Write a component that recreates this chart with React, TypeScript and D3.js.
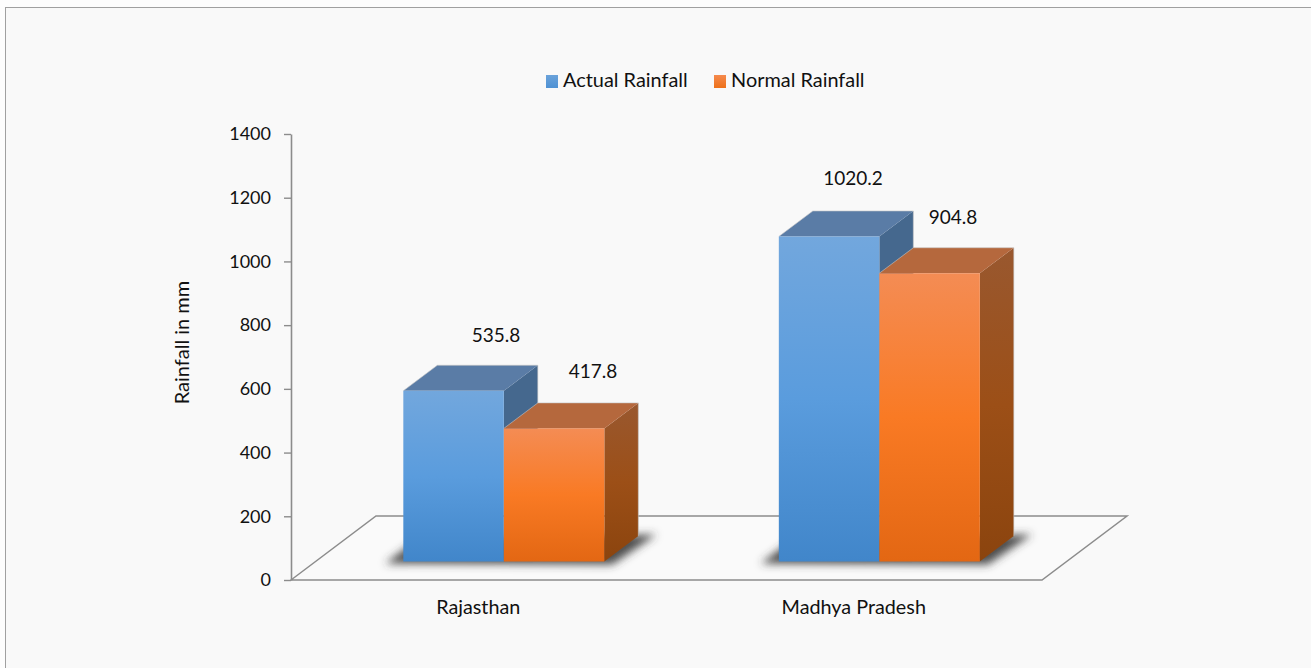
import React, { useEffect, useRef } from "react";
import * as d3 from "d3";

const categories = ["Rajasthan", "Madhya Pradesh"];
const seriesNames = ["Actual Rainfall", "Normal Rainfall"];
const actualRainfall = [535.8, 1020.2];
const normalRainfall = [417.8, 904.8];
const yTicks = [0, 200, 400, 600, 800, 1000, 1200, 1400];
const yTitle = "Rainfall in mm";

const W = 1311, H = 668;
const FONT = "Lato, Carlito, 'Open Sans', sans-serif";
const AXIS = "#8c8c8c";
const TEXT = "#111";

const x0 = d3.scaleBand<string>().domain(categories).range([291, 1042]);
const y = d3.scaleLinear().domain([0, 1400]).range([580, 134]);

// floor perspective
const floorDx = 85, floorDy = 64;
const baseLift = 18.5;                 // bars stand part-way back on the floor
const baseShift = baseLift * floorDx / floorDy + 0.5;
const depthX = 34, depthY = 25.5;      // bar depth
const barW = 100.5;

const series = [
  { name: seriesNames[0], values: actualRainfall, front: "gradBlue", side: "#45688e", top: "#5a7ca6", swatch: "gradBlueSw" },
  { name: seriesNames[1], values: normalRainfall, front: "gradOrange", side: "gradOrangeSide", top: "#b5683d", swatch: "gradOrangeSw" },
];

// label nudges from the top-centre of each bar, [series][category]
const labelDx = [[42.5, 24], [39, 23.5]];
const labelDy = [[-56.5, -58.5], [-57.5, -56.5]];

const pts = (p: number[][]) => p.map(a => a.join(",")).join(" ");

function stops(c: string[]) {
  return c.map((col, i) => <stop key={i} offset={i / (c.length - 1)} stopColor={col} />);
}

export default function App() {
  const axisRef = useRef<SVGGElement>(null);

  useEffect(() => {
    const g = d3.select(axisRef.current!);
    g.call(d3.axisLeft(y).tickValues(yTicks).tickFormat(d3.format("d") as any).tickSize(7).tickPadding(13).tickSizeOuter(0) as any);
    g.selectAll("path").attr("stroke", AXIS).attr("stroke-width", 1.6);
    g.selectAll("line").attr("stroke", AXIS).attr("stroke-width", 1.4);
    g.selectAll("text").attr("fill", TEXT).attr("font-size", 18).attr("font-family", FONT);
  }, []);

  const xL = 291, xR = 1042, yF = y(0), yB = yF - floorDy;

  return (
    <svg width={W} height={H} style={{ position: "absolute", left: 0, top: 0, display: "block" }}>
      <defs>
        <linearGradient id="gradBlue" x1="0" y1="0" x2="0" y2="1">{stops(["#72a7dd", "#5a9cdd", "#4186ca"])}</linearGradient>
        <linearGradient id="gradOrange" x1="0" y1="0" x2="0" y2="1">{stops(["#f48c54", "#f97a24", "#e36713"])}</linearGradient>
        <linearGradient id="gradOrangeSide" x1="0" y1="0" x2="0" y2="1">{stops(["#99582f", "#9c4f17", "#8b440e"])}</linearGradient>
        <linearGradient id="gradBlueSw" x1="0" y1="0" x2="0" y2="1">{stops(["#6aa2da", "#4f92d4"])}</linearGradient>
        <linearGradient id="gradOrangeSw" x1="0" y1="0" x2="0" y2="1">{stops(["#f58a4e", "#ee7119"])}</linearGradient>
        <filter id="blur" x="-20%" y="-60%" width="140%" height="220%"><feGaussianBlur stdDeviation="4.5" /></filter>
      </defs>

      <rect width={W} height={H} fill="#fdfdfd" />
      <rect x={5.5} y={7.5} width={W} height={H} fill="#f9f9f9" stroke="#a0a0a0" strokeWidth={1} />

      {/* floor */}
      <polygon points={pts([[xL, yF], [xL + floorDx, yB], [xR + floorDx, yB], [xR, yF]])} fill="#fafafa" stroke={AXIS} strokeWidth={1.5} />

      {/* y axis */}
      <g ref={axisRef} transform={`translate(${xL},0)`} />

      {/* shadows */}
      {categories.map(c => {
        const l = x0(c)! + x0.bandwidth() / 2 + baseShift - barW;
        const b = yF - baseLift;
        return (
          <polygon key={c} filter="url(#blur)" fill="#3a3a3a" fillOpacity={0.9}
            points={pts([[l - 18, b + 2], [l + 14, b - 22], [l + 2 * barW + 52, b - 27], [l + 2 * barW + 8, b + 3]])} />
        );
      })}

      {/* bars */}
      {categories.map((c, ci) => {
        const cx = x0(c)! + x0.bandwidth() / 2 + baseShift;
        return (
          <g key={c}>
            {series.map((s, si) => {
              const l = cx - barW + si * barW, r = l + barW;
              const v = s.values[ci];
              const h = yF - y(v);
              const b = yF - baseLift, t = b - h;
              const sideFill = s.side.startsWith("grad") ? `url(#${s.side})` : s.side;
              return (
                <g key={s.name}>
                  <polygon points={pts([[r, t], [r + depthX, t - depthY], [r + depthX, b - depthY], [r, b]])} fill={sideFill} />
                  <polygon points={pts([[l, t], [l + depthX, t - depthY], [r + depthX, t - depthY], [r, t]])} fill={s.top} />
                  <polyline points={pts([[l, t], [l + depthX, t - depthY], [r + depthX, t - depthY], [r + depthX, b - depthY]])} fill="none" stroke="#c4c4c4" strokeOpacity={0.6} strokeWidth={1} />
                  <rect x={l} y={t} width={barW} height={h} fill={`url(#${s.front})`} />
                </g>
              );
            })}
          </g>
        );
      })}

      {/* data labels */}
      {categories.map((c, ci) => {
        const cx = x0(c)! + x0.bandwidth() / 2 + baseShift;
        return series.map((s, si) => {
          const v = s.values[ci];
          const t = y(v) - baseLift;
          return (
            <text key={c + s.name} x={cx - barW / 2 + si * barW + labelDx[si][ci]} y={t + labelDy[si][ci]}
              textAnchor="middle" dominantBaseline="central" fontFamily={FONT} fontSize={19} fill={TEXT}>{v.toFixed(1)}</text>
          );
        });
      })}

      {/* category labels */}
      {categories.map(c => (
        <text key={c} x={x0(c)! + x0.bandwidth() / 2 - 0.5} y={614} textAnchor="middle" fontFamily={FONT} fontSize={19.8} fill={TEXT}>{c}</text>
      ))}

      {/* axis title */}
      <text transform="translate(189,342.5) rotate(-90)" textAnchor="middle" fontFamily={FONT} fontSize={20} fill={TEXT}>{yTitle}</text>

      {/* legend */}
      {series.map((s, i) => {
        const lx = [546, 714][i];
        return (
          <g key={s.name}>
            <rect x={lx} y={75} width={12} height={13} fill={`url(#${s.swatch})`} />
            <text x={lx + 17} y={87} fontFamily={FONT} fontSize={19.9} fill={TEXT}>{s.name}</text>
          </g>
        );
      })}
    </svg>
  );
}
